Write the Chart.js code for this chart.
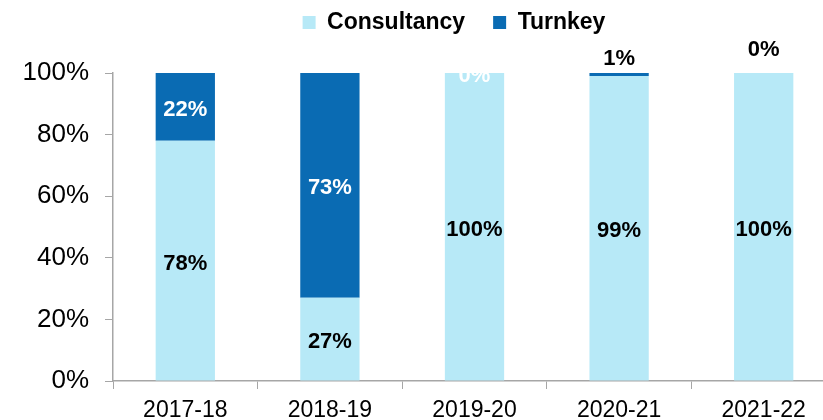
<!DOCTYPE html>
<html>
<head>
<meta charset="utf-8">
<script src="https://cdn.jsdelivr.net/npm/chart.js@4/dist/chart.umd.min.js"></script>
<style>
  html, body { margin: 0; padding: 0; background: #fff; overflow: hidden; }
  #wrap { width: 823px; height: 420px; overflow: hidden; }
</style>
</head>
<body>
<div id="wrap"><canvas id="chart" width="836" height="420"></canvas></div>
<script>
const years = ['2017-18', '2018-19', '2019-20', '2020-21', '2021-22'];
const consultancy = [78, 27, 100, 99, 100];
const turnkey = [22, 73, 0, 1, 0];
const yTicks = [0, 20, 40, 60, 80, 100];

const FONT = 'Arial, "Liberation Sans", sans-serif';

// fixed band above the plot for the legend, legend nudged right like the original
const legendBand = {
  id: 'legendBand',
  afterInit(chart) {
    const lg = chart.legend;
    const fit = lg.fit;
    lg.fit = function () {
      fit.call(this);
      this.height = 90;
    };
  },
  beforeDraw(chart) {
    const lg = chart.legend;
    lg.left += 36;
    lg.right += 36;
  }
};

// value labels: inside the bar, or above the stack when the segment is too thin
const barLabels = {
  id: 'barLabels',
  afterDatasetsDraw(chart) {
    const ctx = chart.ctx;
    ctx.save();
    ctx.font = 'bold 22px ' + FONT;
    ctx.textAlign = 'center';
    ctx.textBaseline = 'middle';
    const above = { 3: 17, 4: 26 };
    chart.data.datasets.forEach((ds, di) => {
      chart.getDatasetMeta(di).data.forEach((bar, i) => {
        const v = ds.data[i];
        let y = (bar.y + bar.base) / 2;
        if (di === 1 && above[i] !== undefined) {
          ctx.fillStyle = '#000';
          y = bar.y - above[i];
        } else {
          ctx.fillStyle = di === 1 ? '#fff' : '#000';
        }
        ctx.fillText(v + '%', bar.x, y + 3);
      });
    });
    ctx.restore();
  }
};

new Chart(document.getElementById('chart'), {
  type: 'bar',
  data: {
    labels: years,
    datasets: [
      {
        label: 'Consultancy',
        data: consultancy,
        backgroundColor: '#B7E9F7',
        barPercentage: 0.41,
        categoryPercentage: 1
      },
      {
        label: 'Turnkey',
        data: turnkey,
        backgroundColor: '#0A6BB3',
        barPercentage: 0.41,
        categoryPercentage: 1
      }
    ]
  },
  options: {
    responsive: false,
    animation: false,
    layout: { padding: { top: -17, right: 0, bottom: 0, left: 0 } },
    plugins: {
      legend: {
        position: 'top',
        labels: {
          font: { family: FONT, size: 23, weight: 'bold' },
          color: '#000',
          boxWidth: 13,
          boxHeight: 13,
          padding: 28
        }
      },
      tooltip: { enabled: false }
    },
    scales: {
      x: {
        stacked: true,
        grid: {
          offset: true,
          drawOnChartArea: false,
          drawTicks: true,
          tickLength: 8,
          color: '#A6A6A6'
        },
        border: { color: '#A6A6A6', width: 1.5 },
        ticks: {
          font: { family: FONT, size: 23 },
          color: '#000',
          padding: 8,
          maxRotation: 0
        },
        afterFit(scale) { scale.height = 39; }
      },
      y: {
        stacked: true,
        min: 0,
        max: 100,
        afterBuildTicks(scale) { scale.ticks = yTicks.map(v => ({ value: v })); },
        grid: {
          drawOnChartArea: false,
          drawTicks: true,
          tickLength: 8,
          color: '#A6A6A6'
        },
        border: { color: '#A6A6A6', width: 1.5 },
        ticks: {
          font: { family: FONT, size: 26 },
          color: '#000',
          padding: 16,
          callback: v => v + '%'
        },
        afterFit(scale) { scale.width = 113; }
      }
    }
  },
  plugins: [legendBand, barLabels]
});
</script>
</body>
</html>
